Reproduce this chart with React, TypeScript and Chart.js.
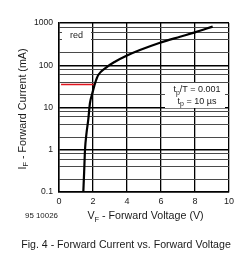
import React, { useEffect, useRef } from "react";
import { Chart, registerables } from "chart.js";

Chart.register(...registerables);

const voltage = [1.43, 1.48, 1.53, 1.62, 1.72, 1.82, 1.96, 2.12, 2.31, 2.71, 3.29, 4.0, 4.76, 5.94, 7.12, 8.0, 9.04];
const current = [0.1, 0.3, 1, 2.5, 5.06, 12.6, 21.7, 37.4, 58.8, 84.7, 121, 170, 229, 342, 474, 600, 820];
const markerV = [0.12, 2.1];
const markerI = [35, 35];
const yTicks = [
  0.1, 0.2, 0.4, 0.6, 0.8,
  1, 2, 4, 6, 8,
  10, 20, 40, 60, 80,
  100, 200, 400, 600, 800,
  1000,
];
const yMajor = [0.1, 1, 10, 100, 1000];
const xTicks = [0, 2, 4, 6, 8, 10];

const FONT = "'Liberation Sans', Arial, sans-serif";

function drawSub(
  ctx: CanvasRenderingContext2D,
  parts: { t: string; sub?: boolean }[],
  cx: number,
  cy: number,
  size: number,
  subSize: number
) {
  const widths = parts.map((p) => {
    ctx.font = `${p.sub ? subSize : size}px ${FONT}`;
    return ctx.measureText(p.t).width;
  });
  const total = widths.reduce((a, b) => a + b, 0);
  let x = cx - total / 2;
  ctx.textBaseline = "middle";
  ctx.textAlign = "left";
  parts.forEach((p, i) => {
    ctx.font = `${p.sub ? subSize : size}px ${FONT}`;
    ctx.fillText(p.t, x, p.sub ? cy + size * 0.3 : cy);
    x += widths[i];
  });
}

const annotations = {
  id: "annotations",
  afterDraw(chart: any) {
    const ctx: CanvasRenderingContext2D = chart.ctx;
    const a = chart.chartArea;
    ctx.save();
    ctx.fillStyle = "#fff";
    // "red" label box
    ctx.fillRect(a.left + 3, a.top + 5, 29, 15);
    // tp/T box
    ctx.fillRect(a.left + 106, a.top + 60, 60, 25);
    ctx.fillStyle = "#1a1a1a";
    ctx.font = `9px ${FONT}`;
    ctx.textAlign = "center";
    ctx.textBaseline = "middle";
    ctx.fillText("red", a.left + 17.5, a.top + 12.5);
    drawSub(ctx, [{ t: "t" }, { t: "p", sub: true }, { t: "/T = 0.001" }], a.left + 138, a.top + 67, 9, 7);
    drawSub(ctx, [{ t: "t" }, { t: "p", sub: true }, { t: " = 10 µs" }], a.left + 138, a.top + 78.5, 9, 7);

    // x axis title
    drawSub(
      ctx,
      [{ t: "V" }, { t: "F", sub: true }, { t: " - Forward Voltage (V)" }],
      (a.left + a.right) / 2 + 1.5,
      a.bottom + 24.5,
      10.7,
      7.5
    );
    // y axis title
    ctx.save();
    ctx.translate(23, 109);
    ctx.rotate(-Math.PI / 2);
    drawSub(
      ctx,
      [{ t: "I" }, { t: "F", sub: true }, { t: " - Forward Current (mA)" }],
      0,
      0,
      10.7,
      7.5
    );
    ctx.restore();

    ctx.font = `7.9px ${FONT}`;
    ctx.textAlign = "left";
    ctx.textBaseline = "middle";
    ctx.fillText("95 10026", 25, 215.5);

    ctx.font = `10.6px ${FONT}`;
    ctx.textAlign = "center";
    ctx.fillText("Fig. 4 - Forward Current vs. Forward Voltage", 126, 245);
    ctx.restore();
  },
};

export default function App() {
  const ref = useRef<HTMLCanvasElement>(null);
  useEffect(() => {
    if (!ref.current) return;
    const chart = new Chart(ref.current, {
      type: "line",
      data: {
        datasets: [
          {
            data: voltage.map((v, i) => ({ x: v, y: current[i] })),
            borderColor: "#000",
            borderWidth: 2.2,
            pointRadius: 0,
            cubicInterpolationMode: "monotone",
          },
          {
            data: markerV.map((v, i) => ({ x: v, y: markerI[i] })),
            borderColor: "#e0141e",
            borderWidth: 1.6,
            pointRadius: 0,
          },
        ],
      },
      options: {
        animation: false,
        responsive: false,
        events: [],
        layout: { padding: { left: 0, right: 13, top: 23, bottom: 0 } },
        plugins: { legend: { display: false }, tooltip: { enabled: false } },
        scales: {
          x: {
            type: "linear",
            min: 0,
            max: 10,
            afterBuildTicks: (s: any) => {
              s.ticks = xTicks.map((v) => ({ value: v }));
            },
            afterFit: (s: any) => {
              s.height = 64;
            },
            grid: { color: "#000", lineWidth: 1.3, drawTicks: false },
            border: { color: "#000", width: 1.5 },
            ticks: {
              padding: 4,
              color: "#1a1a1a",
              font: { family: FONT, size: 9 },
              maxRotation: 0,
              autoSkip: false,
            },
          },
          y: {
            type: "logarithmic",
            min: 0.1,
            max: 1000,
            afterBuildTicks: (s: any) => {
              s.ticks = yTicks.map((v) => ({ value: v }));
            },
            afterFit: (s: any) => {
              s.width = 59;
            },
            grid: {
              color: (c: any) => (yMajor.includes(c.tick?.value) ? "#000" : "#4a4a4a"),
              lineWidth: (c: any) => (yMajor.includes(c.tick?.value) ? 1.4 : 1),
              drawTicks: false,
            },
            border: { color: "#000", width: 1.5 },
            ticks: {
              padding: 6,
              color: "#1a1a1a",
              font: { family: FONT, size: 8.6 },
              autoSkip: false,
              callback: (v: any) => (yMajor.includes(Number(v)) ? String(v) : ""),
            },
          },
        },
      },
      plugins: [annotations],
    } as any);
    return () => chart.destroy();
  }, []);
  return (
    <div style={{ position: "fixed", left: 0, top: 0, width: 242, height: 256, background: "#fff" }}>
      <canvas ref={ref} width={242} height={256} />
    </div>
  );
}
